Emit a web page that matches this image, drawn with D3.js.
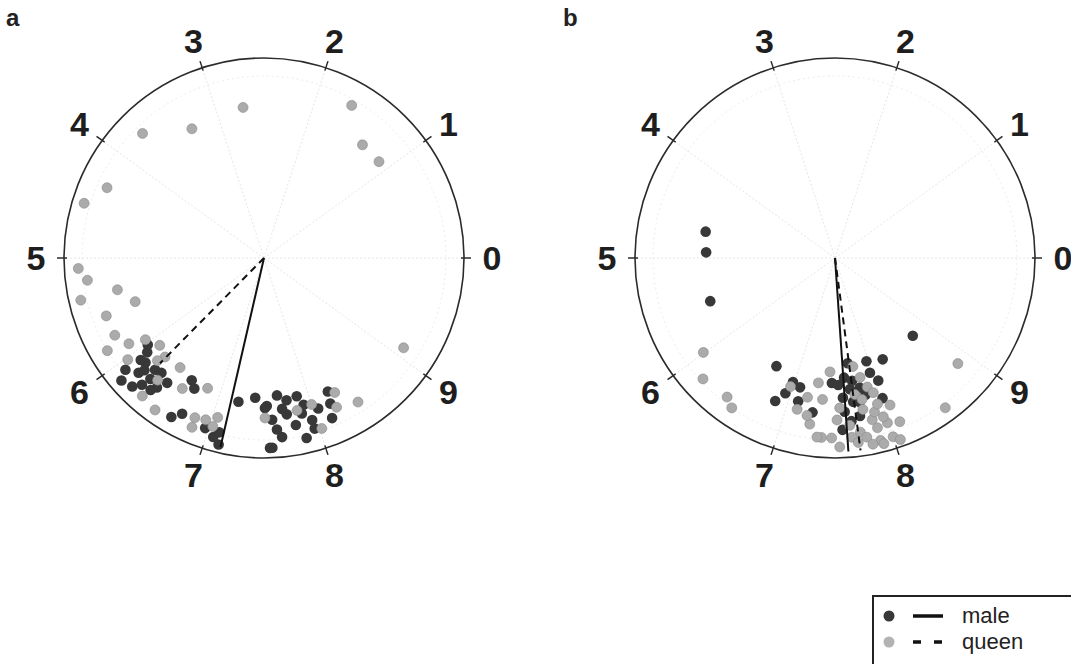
<!DOCTYPE html>
<html>
<head>
<meta charset="utf-8">
<script src="https://cdn.jsdelivr.net/npm/d3@7"></script>
<style>
  body { margin: 0; background: #fff; }
  svg { display: block; font-family: "Liberation Sans", Arial, sans-serif; }
</style>
</head>
<body>
<div id="chart"></div>
<script>
// circular positions: [angle (0-10 scale), radial position (0-1)]
const tickLabels = ['0', '1', '2', '3', '4', '5', '6', '7', '8', '9'];

const maleA = [
  [6.15, 0.79], [6.08, 0.89], [6.27, 0.78], [6.13, 0.94], [6.23, 0.92], [6.37, 0.87],
  [6.45, 0.79], [6.18, 0.85], [6.34, 0.77], [6.65, 0.71], [6.72, 0.74], [6.66, 0.92],
  [6.73, 0.88], [6.97, 0.90], [7.06, 0.93], [7.12, 0.96], [7.22, 0.73], [7.40, 0.70],
  [7.51, 0.75], [7.55, 0.95], [7.65, 0.69], [7.87, 0.71], [7.53, 0.74], [7.69, 0.76],
  [7.73, 0.79], [7.58, 0.81], [7.88, 0.80], [7.96, 0.845], [7.96, 0.89], [8.21, 0.74],
  [8.14, 0.87], [7.66, 0.90], [7.57, 0.95], [7.87, 0.925], [6.08, 0.75], [6.02, 0.725],
  [6.20, 0.82], [6.30, 0.83], [6.10, 0.80], [6.40, 0.84], [6.28, 0.88], [7.75, 0.72],
  [7.80, 0.85], [7.62, 0.86], [8.05, 0.80], [7.92, 0.76], [7.10, 0.90], [8.18, 0.80]
];
const queenA = [
  [5.76, 0.84], [5.85, 0.91], [5.96, 0.72], [6.11, 0.68], [6.02, 0.85], [6.25, 0.70],
  [6.46, 0.69], [6.36, 0.81], [6.35, 0.92], [6.61, 0.77], [6.85, 0.71], [6.51, 0.935],
  [6.85, 0.87], [6.86, 0.92], [7.05, 0.83], [7.03, 0.88], [7.51, 0.80], [7.84, 0.78],
  [8.00, 0.77], [8.02, 0.90], [8.27, 0.76], [8.22, 0.83], [8.42, 0.86], [9.09, 0.83],
  [4.33, 0.86], [4.53, 0.94], [5.09, 0.93], [5.20, 0.89], [5.36, 0.94], [5.34, 0.75],
  [5.52, 0.68], [5.56, 0.84], [3.73, 0.87], [3.31, 0.74], [2.72, 0.76], [1.67, 0.88],
  [1.36, 0.75], [1.11, 0.75], [5.90, 0.80], [6.22, 0.74], [6.95, 0.86]
];
const maleB = [
  [4.68, 0.66], [4.93, 0.645], [5.53, 0.66], [6.71, 0.615], [6.87, 0.775], [8.75, 0.55],
  [6.98, 0.655], [7.08, 0.67], [6.94, 0.72], [7.10, 0.74], [7.27, 0.78], [7.46, 0.625],
  [7.54, 0.635], [7.68, 0.66], [7.59, 0.70], [7.70, 0.725], [7.77, 0.73], [7.69, 0.53],
  [7.97, 0.54], [8.20, 0.56], [7.97, 0.60], [8.02, 0.74], [7.75, 0.80], [7.60, 0.77],
  [7.57, 0.86], [8.04, 0.65], [7.62, 0.60], [7.72, 0.62], [7.80, 0.66], [7.66, 0.82],
  [7.85, 0.70]
];
const queenB = [
  [5.99, 0.81], [6.18, 0.895], [6.45, 0.88], [6.54, 0.91], [8.87, 0.81], [8.51, 0.93],
  [7.43, 0.57], [7.29, 0.63], [6.97, 0.68], [7.19, 0.71], [7.36, 0.71], [7.26, 0.84],
  [7.38, 0.90], [7.47, 0.90], [7.54, 0.945], [7.52, 0.81], [7.76, 0.55], [7.83, 0.61],
  [7.89, 0.665], [7.94, 0.70], [7.79, 0.77], [7.86, 0.83], [7.89, 0.875], [7.99, 0.865],
  [7.89, 0.94], [8.00, 0.94], [8.05, 0.965], [7.91, 0.96], [7.73, 0.88], [7.78, 0.91],
  [7.90, 0.795], [7.97, 0.83], [7.11, 0.78], [7.22, 0.80], [7.64, 0.84], [7.55, 0.75],
  [7.73, 0.69], [8.07, 0.785], [7.34, 0.90], [7.65, 0.90], [7.80, 0.72], [7.95, 0.76],
  [8.10, 0.88], [7.82, 0.95], [7.70, 0.93]
];
// mean directions: [angle, length]
const meanMaleA = [7.14, 0.97];
const meanQueenA = [6.26, 0.74];
const meanMaleB = [7.61, 0.97];
const meanQueenB = [7.71, 0.97];

const width = 1071, height = 664;
const R = 200;

const svg = d3.select('#chart').append('svg')
  .attr('width', width)
  .attr('height', height);

svg.append('rect').attr('width', width).attr('height', height).attr('fill', '#fff');

const angle = d3.scaleLinear().domain([0, 10]).range([0, 2 * Math.PI]);
const radius = d3.scaleLinear().domain([0, 1]).range([0, R]);

function px(d) { return radius(d[1]) * Math.cos(angle(d[0])); }
function py(d) { return -radius(d[1]) * Math.sin(angle(d[0])); }

function drawPanel(cx, cy, letter, letterX, males, queens, meanM, meanQ) {
  const g = svg.append('g').attr('transform', `translate(${cx},${cy})`);

  // faint spokes
  g.selectAll('.spoke')
    .data(d3.range(10))
    .enter()
    .append('line')
    .attr('x1', 0).attr('y1', 0)
    .attr('x2', d => px([d, 1]))
    .attr('y2', d => py([d, 1]))
    .attr('stroke', '#e6e6e6')
    .attr('stroke-width', 1)
    .attr('stroke-dasharray', '2,2');

  g.append('circle')
    .attr('r', radius(0.91))
    .attr('fill', 'none')
    .attr('stroke', '#ececec')
    .attr('stroke-dasharray', '2,3');

  g.append('circle')
    .attr('r', R)
    .attr('fill', 'none')
    .attr('stroke', '#2b2b2b')
    .attr('stroke-width', 1.6);

  // ticks
  g.selectAll('.tick')
    .data(d3.range(10))
    .enter()
    .append('line')
    .attr('x1', d => px([d, 0.985]))
    .attr('y1', d => py([d, 0.985]))
    .attr('x2', d => px([d, 1.035]))
    .attr('y2', d => py([d, 1.035]))
    .attr('stroke', '#2b2b2b')
    .attr('stroke-width', 1.5);

  g.selectAll('.lab')
    .data(tickLabels)
    .enter()
    .append('text')
    .attr('x', (d, i) => px([i, 1.14]))
    .attr('y', (d, i) => py([i, 1.14]))
    .attr('dy', '0.36em')
    .attr('text-anchor', 'middle')
    .style('font-size', '34px')
    .style('font-weight', 'bold')
    .style('fill', '#1e1e1e')
    .text(d => d);

  g.selectAll('.male')
    .data(males)
    .enter()
    .append('circle')
    .attr('cx', px)
    .attr('cy', py)
    .attr('r', 5.3)
    .attr('fill', '#383838');

  g.selectAll('.queen')
    .data(queens)
    .enter()
    .append('circle')
    .attr('cx', px)
    .attr('cy', py)
    .attr('r', 5)
    .attr('fill', '#ababab')
    .attr('stroke', '#8a8a8a')
    .attr('stroke-width', 0.6);

  g.append('line')
    .attr('x1', 0).attr('y1', 0)
    .attr('x2', px(meanQ)).attr('y2', py(meanQ))
    .attr('stroke', '#111')
    .attr('stroke-width', 2)
    .attr('stroke-dasharray', '7,5');

  g.append('line')
    .attr('x1', 0).attr('y1', 0)
    .attr('x2', px(meanM)).attr('y2', py(meanM))
    .attr('stroke', '#111')
    .attr('stroke-width', 2);

  svg.append('text')
    .attr('x', letterX)
    .attr('y', 26)
    .style('font-size', '24px')
    .style('font-weight', 'bold')
    .style('fill', '#222')
    .text(letter);
}

drawPanel(264, 258, 'a', 6, maleA, queenA, meanMaleA, meanQueenA);
drawPanel(835, 258, 'b', 563, maleB, queenB, meanMaleB, meanQueenB);

// legend
const leg = svg.append('g').attr('transform', 'translate(873,596)');
leg.append('rect')
  .attr('x', 0).attr('y', 0)
  .attr('width', 200).attr('height', 70)
  .attr('fill', '#fff')
  .attr('stroke', '#222')
  .attr('stroke-width', 2);

const legendItems = [
  { label: 'male', fill: '#383838', dash: null },
  { label: 'queen', fill: '#b3b3b3', dash: '8,13' }
];

const rows = leg.selectAll('.row')
  .data(legendItems)
  .enter()
  .append('g')
  .attr('transform', (d, i) => `translate(0,${20 + i * 26})`);

rows.append('circle')
  .attr('cx', 16).attr('cy', 0).attr('r', 5.5)
  .attr('fill', d => d.fill);

rows.append('line')
  .attr('x1', 40).attr('x2', 70)
  .attr('y1', 0).attr('y2', 0)
  .attr('stroke', '#111')
  .attr('stroke-width', 3.5)
  .attr('stroke-dasharray', d => d.dash);

rows.append('text')
  .attr('x', 89)
  .attr('y', 0)
  .attr('dy', '0.32em')
  .style('font-size', '22px')
  .style('fill', '#222')
  .text(d => d.label);
</script>
</body>
</html>
